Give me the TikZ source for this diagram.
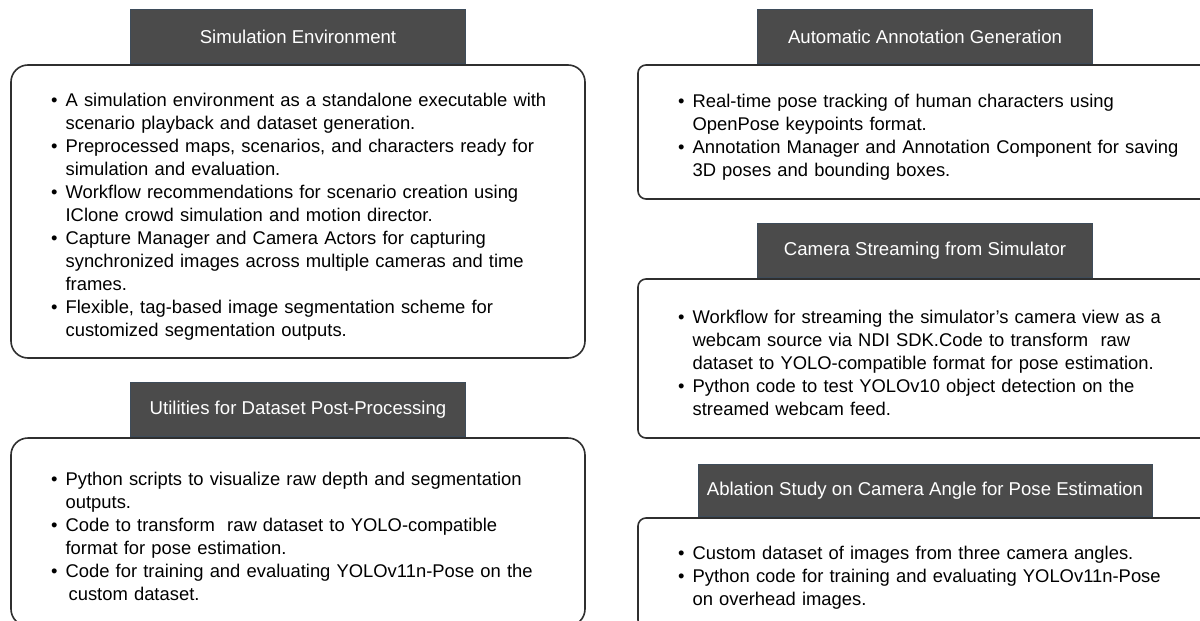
\documentclass[tikz,border=0pt]{standalone}
\usepackage{fontspec}
\setmainfont{Liberation Sans}
\usepackage{enumitem}
\usetikzlibrary{positioning}

\definecolor{hdrfill}{HTML}{4B4B4B}
\definecolor{hdrline}{HTML}{3E4C5A}
\definecolor{boxline}{HTML}{2F2F2F}

\setlist[itemize]{label=\textbullet, leftmargin=7.5pt, labelsep=4pt,
  itemsep=0pt, topsep=0pt, parsep=0pt, partopsep=0pt}

\begin{document}
\begin{tikzpicture}[
    x=0.5pt, y=-0.5pt,
    font=\fontsize{9.2}{11.5}\selectfont,
    card/.style={draw=boxline, line width=0.8pt, minimum width=287pt},
    tab/.style={draw=hdrline, line width=0.5pt, fill=hdrfill, text=white,
                font=\fontsize{9.3}{11.5}\selectfont,
                minimum width=167.5pt, minimum height=27pt, inner sep=0pt},
    items/.style={anchor=west, text width=270pt, inner sep=0pt, xshift=20pt}
  ]
    \useasboundingbox (0,0) rectangle (1200,621);
    \clip (0,0) rectangle (1200,621);

    % left column
    \node[card, rounded corners=8.5pt, minimum height=146.5pt] (sim) at (298,211.5) {};
    \node[tab, above=0pt of sim] (simhdr) {Simulation Environment};
    \node[items] (simlist) at (sim.west) {\raggedright
      \begin{itemize}
        \item A simulation environment as a standalone executable with\newline
              scenario playback and dataset generation.
        \item Preprocessed maps, scenarios, and characters ready for\newline
              simulation and evaluation.
        \item Workflow recommendations for scenario creation using\newline
              IClone crowd simulation and motion director.
        \item Capture Manager and Camera Actors for capturing\newline
              synchronized images across multiple cameras and time\newline
              frames.
        \item Flexible, tag-based image segmentation scheme for\newline
              customized segmentation outputs.
      \end{itemize}};

    \node[card, rounded corners=8.5pt, minimum height=94pt] (util) at (298,532) {};
    \node[tab, above=0pt of util] (utilhdr) {Utilities for Dataset Post-Processing};
    \node[items] (utillist) at (util.west) {\raggedright
      \begin{itemize}
        \item Python scripts to visualize raw depth and segmentation\newline
              outputs.
        \item Code to transform\ \ raw dataset to YOLO-compatible\newline
              format for pose estimation.
        \item Code for training and evaluating YOLOv11n-Pose on the\newline
              \hspace*{1.5pt}custom dataset.
      \end{itemize}};

    % right column
    \node[card, rounded corners=4pt, minimum height=67pt] (anno) at (925,132) {};
    \node[tab, above=0pt of anno] (annohdr) {Automatic Annotation Generation};
    \node[items] (annolist) at (anno.west) {\raggedright
      \begin{itemize}
        \item Real-time pose tracking of human characters using\newline
              OpenPose keypoints format.
        \item Annotation Manager and Annotation Component for saving\newline
              3D poses and bounding boxes.
      \end{itemize}};

    \node[card, rounded corners=4pt, minimum height=79.5pt] (stream) at (925,358.5) {};
    \node[tab, above=0pt of stream] (streamhdr) {Camera Streaming from Simulator};
    \node[items] (streamlist) at (stream.west) {\raggedright
      \begin{itemize}
        \item Workflow for streaming the simulator’s camera view as a\newline
              webcam source via NDI SDK.Code to transform\ \ raw\newline
              dataset to YOLO-compatible format for pose estimation.
        \item Python code to test YOLOv10 object detection on the\newline
              streamed webcam feed.
      \end{itemize}};

    \node[card, rounded corners=4pt, minimum height=55pt] (abl) at (925,573) {};
    \node[tab, above=0pt of abl, minimum width=227pt, minimum height=26pt]
      (ablhdr) {Ablation Study on Camera Angle for Pose Estimation};
    \node[items] (abllist) at (abl.west) {\raggedright
      \begin{itemize}
        \item Custom dataset of images from three camera angles.
        \item Python code for training and evaluating YOLOv11n-Pose\newline
              on overhead images.
      \end{itemize}};
\end{tikzpicture}
\end{document}
